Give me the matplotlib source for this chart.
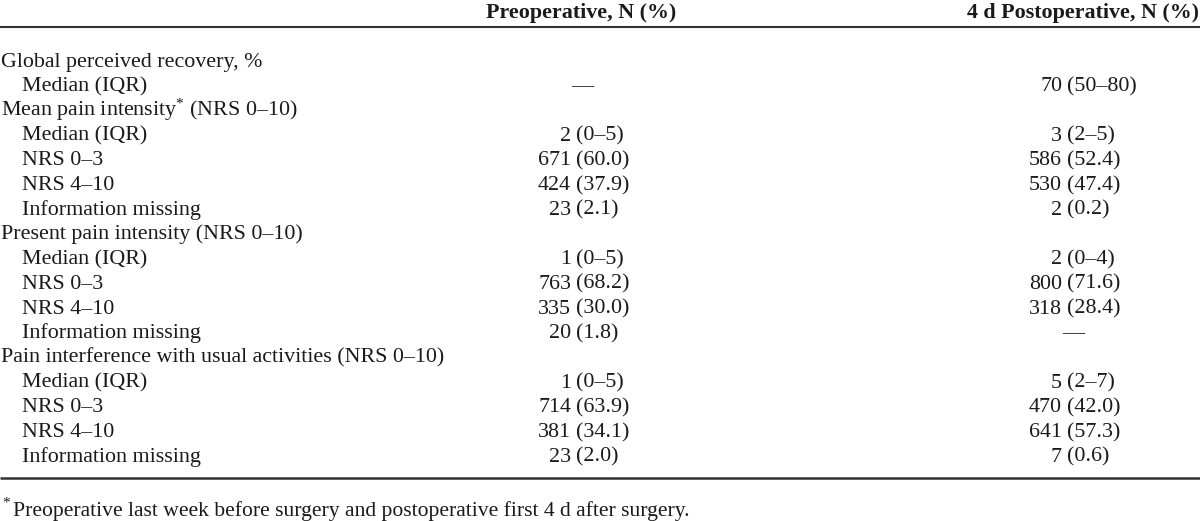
import matplotlib
matplotlib.use("Agg")
import matplotlib.pyplot as plt

plt.rcParams['font.family'] = ['Liberation Serif', 'DejaVu Serif']
plt.rcParams['mathtext.fontset'] = 'custom'
plt.rcParams['mathtext.rm'] = 'Liberation Serif'
plt.rcParams['mathtext.it'] = 'Liberation Serif:italic'
plt.rcParams['mathtext.bf'] = 'Liberation Serif:bold'

# ---- data ----
col_headers = ["Preoperative, N (%)", "4 d Postoperative, N (%)"]
row_labels = [
    "Global perceived recovery, %",
    "Median (IQR)",
    "Mean pain intensity$^{\\mathrm{*}}$ (NRS 0\u201310)",
    "Median (IQR)",
    "NRS 0\u20133",
    "NRS 4\u201310",
    "Information missing",
    "Present pain intensity (NRS 0\u201310)",
    "Median (IQR)",
    "NRS 0\u20133",
    "NRS 4\u201310",
    "Information missing",
    "Pain interference with usual activities (NRS 0\u201310)",
    "Median (IQR)",
    "NRS 0\u20133",
    "NRS 4\u201310",
    "Information missing",
]
row_indent = [0, 1, 0, 1, 1, 1, 1, 0, 1, 1, 1, 1, 0, 1, 1, 1, 1]
preop = ["", "\u2014", "", "2 (0\u20135)", "671 (60.0)", "424 (37.9)", "23 (2.1)",
         "", "1 (0\u20135)", "763 (68.2)", "335 (30.0)", "20 (1.8)",
         "", "1 (0\u20135)", "714 (63.9)", "381 (34.1)", "23 (2.0)"]
postop = ["", "70 (50\u201380)", "", "3 (2\u20135)", "586 (52.4)", "530 (47.4)", "2 (0.2)",
          "", "2 (0\u20134)", "800 (71.6)", "318 (28.4)", "\u2014",
          "", "5 (2\u20137)", "470 (42.0)", "641 (57.3)", "7 (0.6)"]
footnote = "Preoperative last week before surgery and postoperative first 4 d after surgery."

# ---- layout ----
W, H = 1200, 521
fig = plt.figure(figsize=(W / 100, H / 100), dpi=100)
ax = fig.add_axes([0, 0, 1, 1])
ax.set_xlim(0, W)
ax.set_ylim(H, 0)
ax.axis('off')

fs = 15.8
color = '#1a1a1a'

# header
ax.text(581, 18, col_headers[0], ha='center', va='baseline', fontsize=fs,
        fontweight='bold', color=color)
ax.text(1199, 18, col_headers[1], ha='right', va='baseline', fontsize=fs,
        fontweight='bold', color=color)
ax.plot([0, W], [27, 27], color='#333333', lw=1.5, solid_capstyle='butt')

y0, dy = 66.5, 24.7
col_anchor = [571, 1062]
for i, lab in enumerate(row_labels):
    y = y0 + i * dy
    x = 1 + row_indent[i] * 21
    ax.text(x, y, lab, ha='left', va='baseline', fontsize=fs, color=color)
    for j, val in enumerate((preop[i], postop[i])):
        if not val:
            continue
        xa = col_anchor[j]
        if val == "\u2014":
            ax.text(xa + 11, y, val, ha='center', va='baseline', fontsize=fs, color=color)
        else:
            num, rest = val.split(" ", 1)
            ax.text(xa, y, num, ha='right', va='baseline', fontsize=fs, color=color)
            ax.text(xa + 5, y, rest, ha='left', va='baseline', fontsize=fs, color=color)

ax.plot([0, W], [478, 478], color='#333333', lw=1.8, solid_capstyle='butt')

ax.text(2, 507, "*", ha='left', va='baseline', fontsize=11, color=color)
ax.text(13, 516, footnote, ha='left', va='baseline', fontsize=15.6, color=color)

fig.savefig("out.png", dpi=100, facecolor='white')
